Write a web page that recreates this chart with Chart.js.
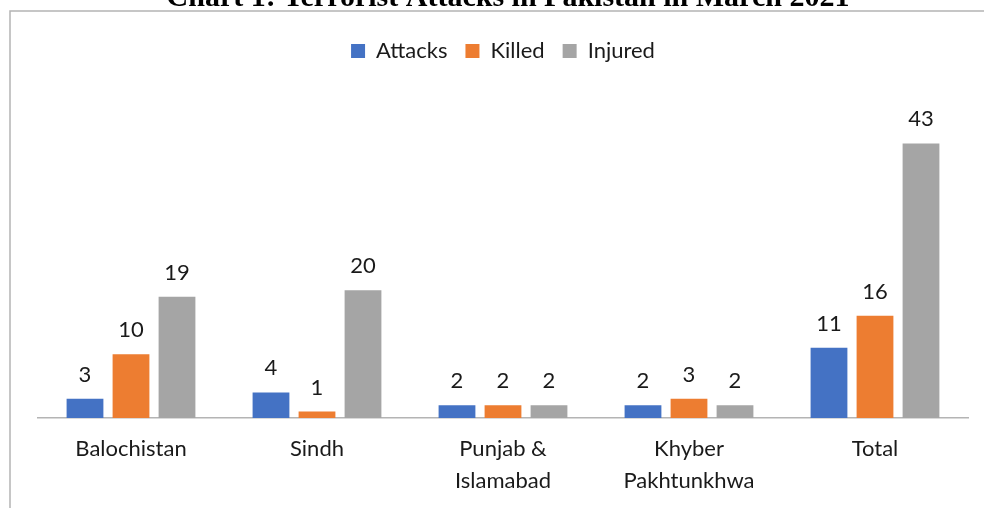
<!DOCTYPE html>
<html>
<head>
<meta charset="utf-8">
<script src="https://cdn.jsdelivr.net/npm/chart.js@4.4.0/dist/chart.umd.min.js"></script>
<style>
    html, body { margin: 0; padding: 0; background: #fff; }
    #box { position: relative; width: 984px; height: 508px; }
</style>
</head>
<body>
<div id="box"><canvas id="chart" width="984" height="508"></canvas></div>
<script>
'use strict';

const chartTitle = 'Chart 1: Terrorist Attacks in Pakistan in March 2021';
const regions = ['Balochistan', 'Sindh', ['Punjab &', 'Islamabad'], ['Khyber', 'Pakhtunkhwa'], 'Total'];
const attacks = [3, 4, 2, 2, 11];
const killed = [10, 1, 2, 3, 16];
const injured = [19, 20, 2, 2, 43];

const labelFont = 'Lato';
const textColor = '#1a1a1a';

// frame, cut-off title and value labels
const decorPlugin = {
    id: 'decor',
    beforeDraw(chart) {
	const ctx = chart.ctx;
	ctx.save();
	ctx.fillStyle = '#fff';
	ctx.fillRect(0, 0, chart.width, chart.height);
	ctx.strokeStyle = '#b4b4b4';
	ctx.lineWidth = 1.5;
	ctx.beginPath();
	ctx.moveTo(10, chart.height);
	ctx.lineTo(10, 11);
	ctx.lineTo(chart.width, 11);
	ctx.stroke();
	ctx.fillStyle = '#000';
	ctx.font = 'bold 30px "Liberation Serif"';
	ctx.textAlign = 'center';
	ctx.textBaseline = 'alphabetic';
	ctx.fillText(chartTitle, 508, 6);
	ctx.restore();
    },
    afterDatasetsDraw(chart) {
	const ctx = chart.ctx;
	ctx.save();
	ctx.fillStyle = textColor;
	ctx.font = '22px ' + labelFont;
	ctx.textAlign = 'center';
	ctx.textBaseline = 'alphabetic';
	chart.data.datasets.forEach((ds, i) => {
	    chart.getDatasetMeta(i).data.forEach((bar, j) => {
		ctx.fillText(String(ds.data[j]), bar.x, bar.y - 17);
	    });
	});
	ctx.restore();
    },
};

const chartData = {
    labels: regions,
    datasets: [{
	label: 'Attacks',
	backgroundColor: '#4472C4',
	data: attacks,
    }, {
	label: 'Killed',
	backgroundColor: '#ED7D31',
	data: killed,
    }, {
	label: 'Injured',
	backgroundColor: '#A5A5A5',
	data: injured,
    }],
};

const chartConfig = {
    type: 'bar',
    data: chartData,
    plugins: [decorPlugin],
    options: {
	responsive: false,
	animation: false,
	devicePixelRatio: 1,
	layout: {
	    padding: {left: 38, right: 16, top: 22, bottom: 0},
	},
	datasets: {
	    bar: {
		categoryPercentage: 0.742,
		barPercentage: 0.8,
		borderWidth: 0,
	    },
	},
	plugins: {
	    legend: {
		display: true,
		position: 'top',
		labels: {
		    boxWidth: 14,
		    boxHeight: 14,
		    padding: 18,
		    color: textColor,
		    font: {family: labelFont, size: 22},
		},
	    },
	    title: {display: false},
	    tooltip: {enabled: false},
	},
	scales: {
	    x: {
		grid: {display: false, drawTicks: false},
		border: {display: true, color: '#b4b4b4', width: 1.5},
		ticks: {
		    padding: 15,
		    color: textColor,
		    maxRotation: 0,
		    autoSkip: false,
		    font: {family: labelFont, size: 22, lineHeight: 1.45},
		},
		afterFit: scale => { scale.height = 90; },
	    },
	    y: {
		display: false,
		min: 0,
		max: 54.2,
	    },
	},
    },
};

const chart = new Chart(document.querySelector('#chart'), chartConfig);
</script>
</body>
</html>
